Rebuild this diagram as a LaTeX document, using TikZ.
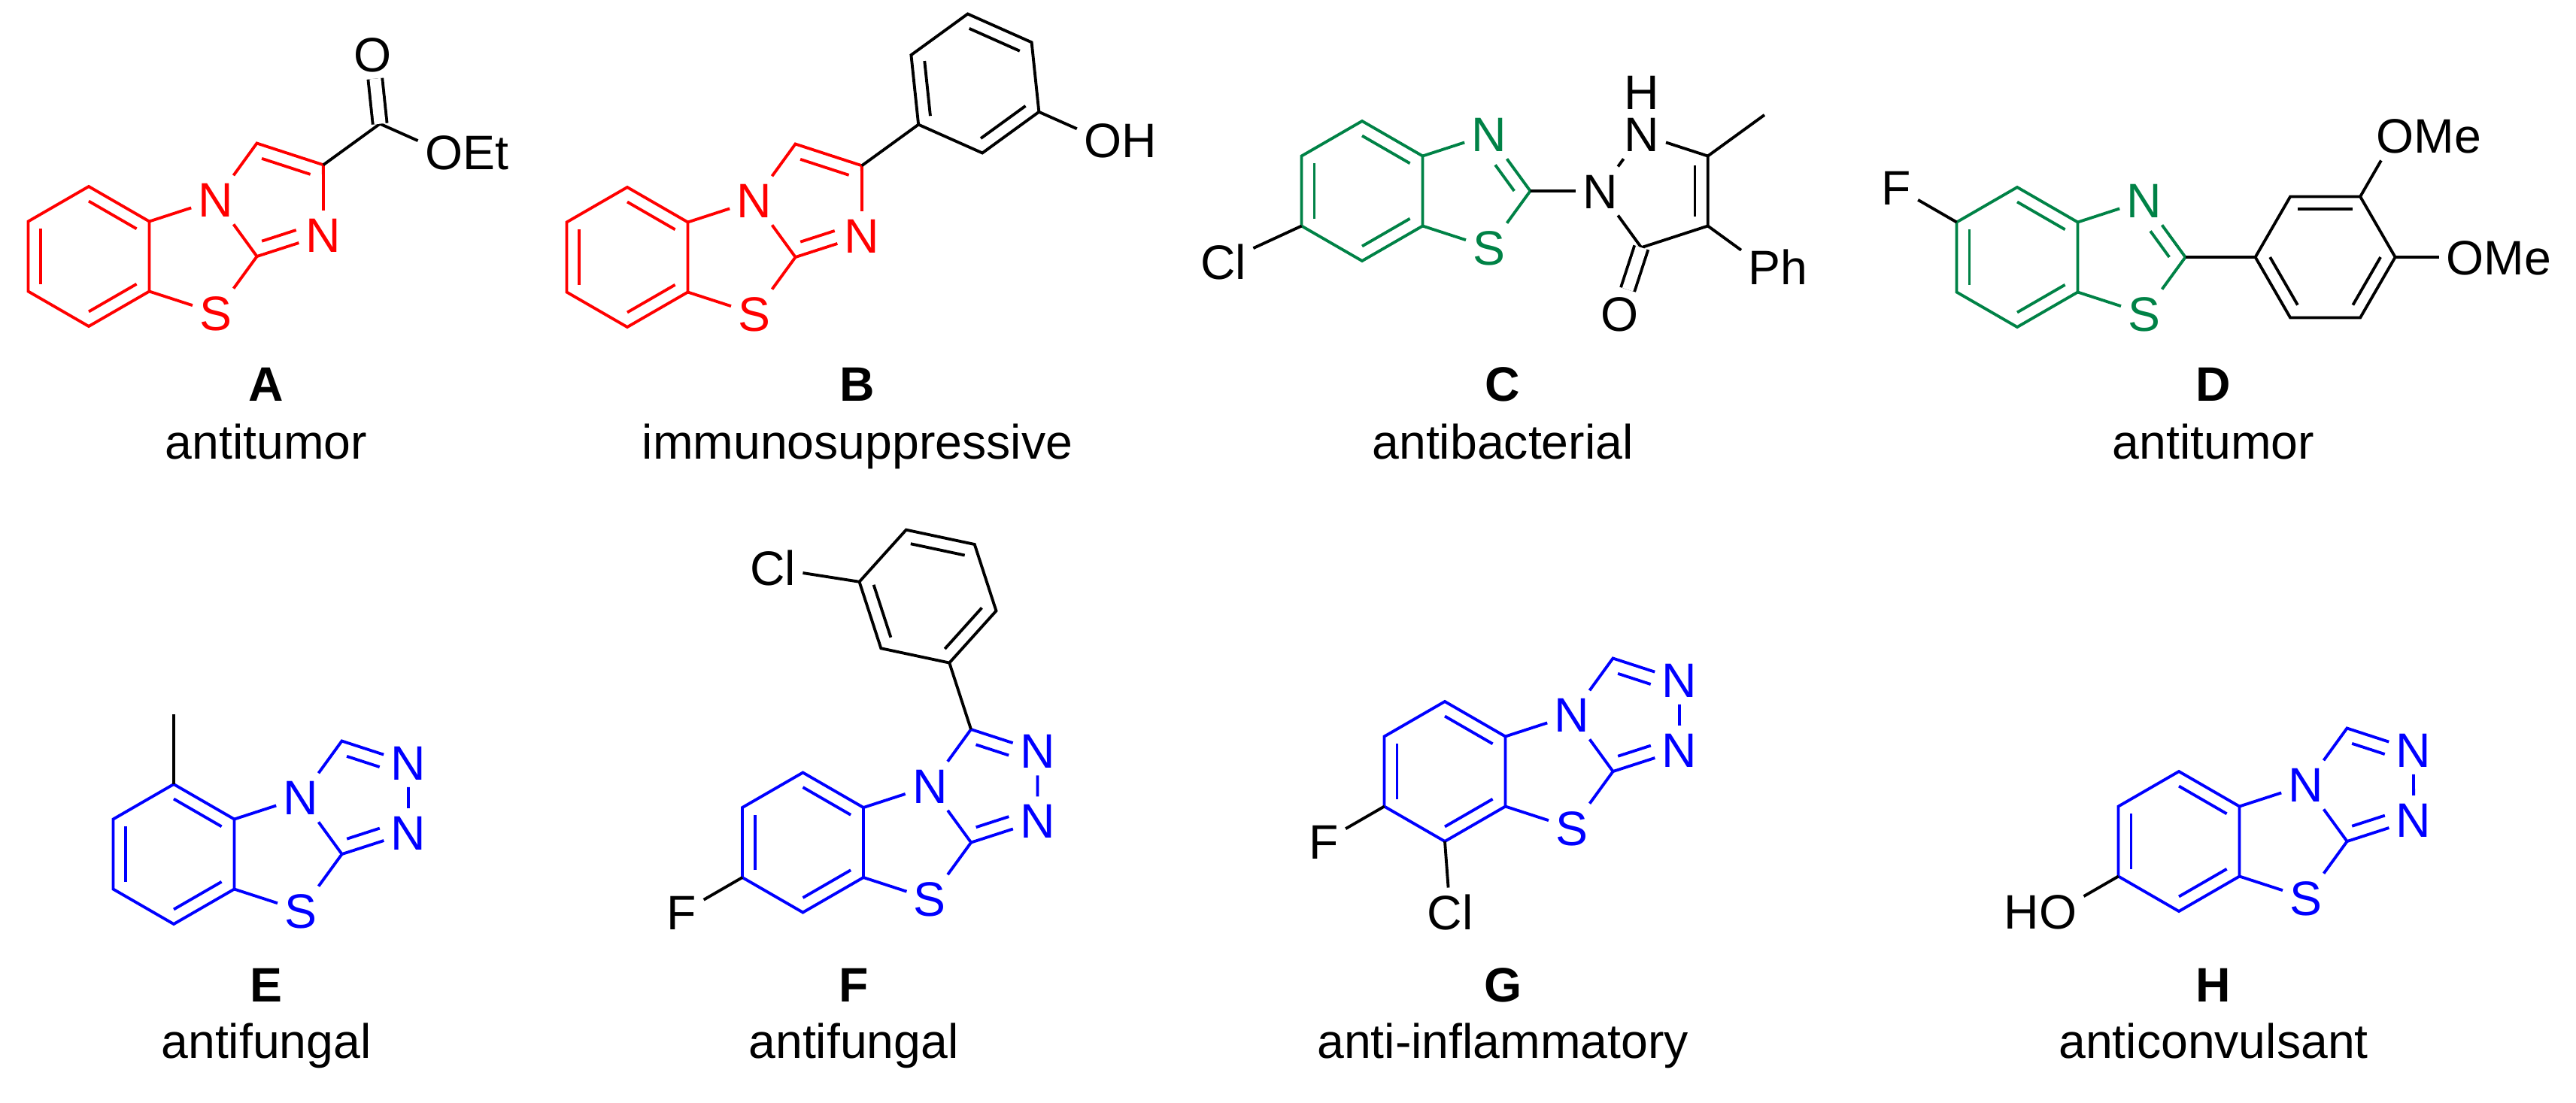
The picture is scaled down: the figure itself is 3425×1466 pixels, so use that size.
\documentclass[tikz,border=0pt]{standalone}
\usepackage{fontspec}
\setmainfont{Liberation Sans}
\usetikzlibrary{calc}
\definecolor{gc}{RGB}{0,130,70}
\tikzset{
  bond/.style={line width=1.1pt},
  dblb/.style={line width=1.1pt,double,double distance=0.15cm},
  atom/.style={inner sep=2.5pt,text height=0.46cm,text depth=0pt},
}
\newcommand\dbl[5]{\draw[bond,#1] ($(#2)!#5!(#4)$) -- ($(#3)!#5!(#4)$);}
\newcommand\core[4]{%
\begin{scope}[shift={(#2,#3)}]
\coordinate (#1T) at (0,0);
\coordinate (#1TR) at (80.5,46.5);
\coordinate (#1BR) at (80.5,139.5);
\coordinate (#1B) at (0,186);
\coordinate (#1BL) at (-80.5,139.5);
\coordinate (#1TL) at (-80.5,46.5);
\coordinate (#1bc) at (0,93);
\coordinate (#1tc) at (144.5,93);
\coordinate (#1C2) at (223.6,93);
\coordinate (#1Ca) at (223.5,-57.5);
\coordinate (#1Cb) at (311.9,-28.7);
\coordinate (#1Nc) at (312.1,64.4);
\coordinate (#1ic) at (247.9,17.8);
\node[atom,#4] (#1N1) at (168.9,17.8) {N};
\node[atom,#4] (#1S) at (168.9,168.2) {S};
\end{scope}
\draw[bond,#4] (#1T)--(#1TR)--(#1BR)--(#1B)--(#1BL)--(#1TL)--cycle;
\draw[bond,#4] (#1TR)--(#1N1)--(#1C2)--(#1S)--(#1BR);
\dbl{#4}{#1T}{#1TR}{#1bc}{0.21}
\dbl{#4}{#1BR}{#1B}{#1bc}{0.21}
\dbl{#4}{#1BL}{#1TL}{#1bc}{0.21}}
\newcommand\imid[2]{%
\node[atom,#2] (#1Nn) at (#1Nc) {N};
\draw[bond,#2] (#1N1)--(#1Ca)--(#1Cb)--(#1Nn)--(#1C2);
\dbl{#2}{#1Ca}{#1Cb}{#1ic}{0.27}
\dbl{#2,shorten <=0.2cm}{#1Nn}{#1C2}{#1ic}{0.27}}
\newcommand\triaz[1]{%
\node[atom,blue] (#1Nb) at (#1Cb) {N};
\node[atom,blue] (#1Nn) at (#1Nc) {N};
\draw[bond,blue] (#1N1)--(#1Ca)--(#1Nb)--(#1Nn)--(#1C2);
\dbl{blue,shorten >=0.22cm}{#1Ca}{#1Nb}{#1ic}{0.27}
\dbl{blue,shorten <=0.22cm}{#1Nn}{#1C2}{#1ic}{0.27}}
\newcommand\phring[3]{%
\coordinate (#10) at ($(#2)+({-(#3)}:93)$);
\coordinate (#11) at ($(#2)+({-(#3+60)}:93)$);
\coordinate (#12) at ($(#2)+({-(#3+120)}:93)$);
\coordinate (#13) at ($(#2)+({-(#3+180)}:93)$);
\coordinate (#14) at ($(#2)+({-(#3+240)}:93)$);
\coordinate (#15) at ($(#2)+({-(#3+300)}:93)$);
\draw[bond] (#10)--(#11)--(#12)--(#13)--(#14)--(#15)--cycle;}
\begin{document}
\begin{tikzpicture}[x=0.01cm,y=-0.01cm,font=\fontsize{18.3}{22}\selectfont]
\useasboundingbox (0,0) rectangle (3425,1466);
% A
\core{a}{118}{248}{red}
\imid{a}{red}
\coordinate (aCe) at ($(aCb)+(-36:93)$);
\node[atom] (aO1) at ($(aCe)+(-96:93)$) {O};
\node[atom] (aO2) at ($(aCe)+(24:93)$) {O\rlap{Et}};
\draw[bond] (aCb)--(aCe)--(aO2);
\draw[dblb] (aCe)--(aO1);
% B
\core{b}{834}{249}{red}
\imid{b}{red}
\coordinate (bip) at ($(bCb)+(-36:93)$);
\coordinate (bpc) at ($(bip)+(-36:93)$);
\phring{bp}{bpc}{216}
\draw[bond] (bCb)--(bp0);
\dbl{black}{bp4}{bp3}{bpc}{0.21}
\dbl{black}{bp5}{bp0}{bpc}{0.21}
\dbl{black}{bp1}{bp2}{bpc}{0.21}
\node[atom] (bO) at ($(bp2)+(-336:93)$) {O\rlap{H}};
\draw[bond] (bp2)--(bO);
% C
\core{c}{1811}{161}{gc}
\dbl{gc,shorten >=0.25cm}{cC2}{cN1}{ctc}{0.27}
\node[atom] (cCl) at ($(cBL)+(-104,48)$) {Cl};
\draw[bond] (cBL)--(cCl);
\coordinate (cpc) at ($(cC2)+(172.1,0)$);
\node[atom] (cNa) at ($(cpc)+(180:79.1)$) {N};
\node[atom] (cNb) at ($(cpc)+(-108:79.1)$) {N};
\coordinate (cC5) at ($(cpc)+(-36:79.1)$);
\coordinate (cC4) at ($(cpc)+(36:79.1)$);
\coordinate (cC3) at ($(cpc)+(108:79.1)$);
\node[atom] (cH) at ($(cNb)+(0,-56)$) {H};
\draw[bond] (cC2)--(cNa)--(cNb)--(cC5)--(cC4)--(cC3)--(cNa);
\dbl{black}{cC5}{cC4}{cpc}{0.27}
\node[atom] (cO) at ($(cC3)+(108:93)$) {O};
\draw[dblb] (cC3)--(cO);
\coordinate (cMe) at ($(cC5)+(-36:93)$);
\draw[bond] (cC5)--(cMe);
\node[atom] (cPh) at ($(cC4)+(36:93)$) {P\rlap{h}};
\draw[bond] (cC4)--(cPh);
% D
\core{d}{2682}{249}{gc}
\dbl{gc,shorten >=0.25cm}{dC2}{dN1}{dtc}{0.27}
\node[atom] (dF) at ($(dTL)+(-80.5,-46.5)$) {F};
\draw[bond] (dTL)--(dF);
\coordinate (dip) at ($(dC2)+(93,0)$);
\coordinate (dpc) at ($(dip)+(93,0)$);
\phring{dp}{dpc}{180}
\draw[bond] (dC2)--(dp0);
\dbl{black}{dp5}{dp4}{dpc}{0.21}
\dbl{black}{dp0}{dp1}{dpc}{0.21}
\dbl{black}{dp2}{dp3}{dpc}{0.21}
\node[atom] (dO1) at ($(dp4)+(-60:93)$) {O\rlap{Me}};
\node[atom] (dO2) at ($(dp3)+(0:93)$) {O\rlap{Me}};
\draw[bond] (dp4)--(dO1);
\draw[bond] (dp3)--(dO2);
% E
\core{e}{231}{1043}{blue}
\triaz{e}
\coordinate (eMe) at ($(eT)+(0,-93)$);
\draw[bond] (eT)--(eMe);
% F
\core{f}{1067.5}{1027.5}{blue}
\triaz{f}
\coordinate (fip) at ($(fCa)+(-108:93)$);
\coordinate (fpc) at ($(fip)+(-108:93)$);
\phring{fp}{fpc}{288}
\draw[bond] (fCa)--(fp0);
\dbl{black}{fp3}{fp2}{fpc}{0.21}
\dbl{black}{fp1}{fp0}{fpc}{0.21}
\dbl{black}{fp4}{fp5}{fpc}{0.21}
\node[atom] (fCl) at ($(fp4)+(-115,-18)$) {Cl};
\draw[bond] (fp4)--(fCl);
\node[atom] (fF) at ($(fBL)+(-80.5,46.5)$) {F};
\draw[bond] (fBL)--(fF);
% G
\core{g}{1921}{933}{blue}
\triaz{g}
\node[atom] (gF) at ($(gBL)+(-80.5,46.5)$) {F};
\draw[bond] (gBL)--(gF);
\node[atom] (gCl) at ($(gB)+(7,94)$) {Cl};
\draw[bond] (gB)--(gCl);
% H
\core{h}{2897}{1026}{blue}
\triaz{h}
\node[atom] (hO) at ($(hBL)+(-80.5,46.5)$) {\llap{H}O};
\draw[bond] (hBL)--(hO);
% labels
\node[anchor=base,font=\fontsize{18.3}{22}\selectfont\bfseries] (lA) at (354,533) {A};
\node[anchor=base,font=\fontsize{18.3}{22}\selectfont\bfseries] (lB) at (1140,533) {B};
\node[anchor=base,font=\fontsize{18.3}{22}\selectfont\bfseries] (lC) at (1998,533) {C};
\node[anchor=base,font=\fontsize{18.3}{22}\selectfont\bfseries] (lD) at (2943,533) {D};
\node[anchor=base] (nA) at (354,610) {antitumor};
\node[anchor=base] (nB) at (1140,610) {immunosuppressive};
\node[anchor=base] (nC) at (1998,610) {antibacterial};
\node[anchor=base] (nD) at (2943,610) {antitumor};
\node[anchor=base,font=\fontsize{18.3}{22}\selectfont\bfseries] (lE) at (354,1332) {E};
\node[anchor=base,font=\fontsize{18.3}{22}\selectfont\bfseries] (lF) at (1135,1332) {F};
\node[anchor=base,font=\fontsize{18.3}{22}\selectfont\bfseries] (lG) at (1998,1332) {G};
\node[anchor=base,font=\fontsize{18.3}{22}\selectfont\bfseries] (lH) at (2943,1332) {H};
\node[anchor=base] (nE) at (354,1407) {antifungal};
\node[anchor=base] (nF) at (1135,1407) {antifungal};
\node[anchor=base] (nG) at (1998,1407) {anti-inflammatory};
\node[anchor=base] (nH) at (2943,1407) {anticonvulsant};
\end{tikzpicture}
\end{document}
